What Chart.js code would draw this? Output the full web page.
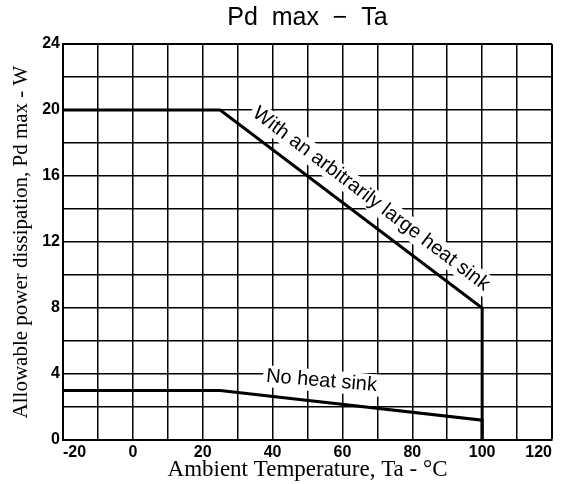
<!DOCTYPE html>
<html>
<head>
<meta charset="utf-8">
<script src="https://cdn.jsdelivr.net/npm/chart.js@4"></script>
<style>
  body { margin: 0; background: #fff; }
  canvas { display: block; }
</style>
</head>
<body>
<canvas id="pdChart" width="563" height="484"></canvas>
<script>
// Axis ranges
const tempMin = -20;
const tempMax = 120;
const pdMin = 0;
const pdMax = 24;

// Curves
const heatSinkTemp = [-20, 25, 100, 100];
const heatSinkPd = [20, 20, 8, 0];
const noSinkTemp = [-20, 25, 100, 100];
const noSinkPd = [3, 3, 1.2, 0];

// Labelled ticks (grid is drawn every 10 °C and every 2 W)
const tempLabels = [-20, 0, 20, 40, 60, 80, 100, 120];
const pdLabels = [0, 4, 8, 12, 16, 20, 24];

const toPoints = (xs, ys) => xs.map((x, i) => ({ x: x, y: ys[i] }));

const tickFont = { family: "'Liberation Sans Narrow', 'Liberation Sans', sans-serif", size: 16, weight: 'bold' };

// Rotated labels sitting on the curves
const curveLabels = {
  id: 'curveLabels',
  afterDatasetsDraw(chart) {
    const { ctx, scales: { x, y } } = chart;
    const put = (text, xa, ya, xb, yb, frac, offset, angleScale) => {
      const x1 = x.getPixelForValue(xa), y1 = y.getPixelForValue(ya);
      const x2 = x.getPixelForValue(xb), y2 = y.getPixelForValue(yb);
      const ang = Math.atan2(y2 - y1, x2 - x1) * angleScale;
      const px = x1 + (x2 - x1) * frac + Math.sin(ang) * offset;
      const py = y1 + (y2 - y1) * frac - Math.cos(ang) * offset;
      ctx.save();
      ctx.translate(px, py);
      ctx.rotate(ang);
      ctx.font = "20px 'Liberation Sans', Arial, sans-serif";
      const tw = ctx.measureText(text).width;
      ctx.fillStyle = '#fff';
      ctx.fillRect(-tw / 2 - 3, -11, tw + 6, 22);
      ctx.fillStyle = '#000';
      ctx.textAlign = 'center';
      ctx.textBaseline = 'middle';
      ctx.fillText(text, 0, 0);
      ctx.restore();
    };
    put('With an arbitrarily large heat sink', heatSinkTemp[1], heatSinkPd[1], heatSinkTemp[2], heatSinkPd[2], 0.53, 20, 1);
    put('No heat sink', noSinkTemp[1], noSinkPd[1], noSinkTemp[2], noSinkPd[2], 0.38, 21, 0.75);
  }
};

new Chart(document.getElementById('pdChart'), {
  type: 'scatter',
  data: {
    datasets: [
      {
        label: 'With an arbitrarily large heat sink',
        data: toPoints(heatSinkTemp, heatSinkPd),
        showLine: true,
        borderColor: '#000',
        borderWidth: 3,
        pointRadius: 0,
        tension: 0
      },
      {
        label: 'No heat sink',
        data: toPoints(noSinkTemp, noSinkPd),
        showLine: true,
        borderColor: '#000',
        borderWidth: 3,
        pointRadius: 0,
        tension: 0
      }
    ]
  },
  options: {
    responsive: false,
    animation: false,
    layout: { padding: { left: 0, right: 11, top: 0, bottom: 0 } },
    plugins: {
      legend: { display: false },
      tooltip: { enabled: false },
      title: {
        display: true,
        fullSize: false,
        text: 'Pd  max  \u2212  Ta',
        color: '#000',
        font: { family: "'Liberation Sans', Arial, sans-serif", size: 25, weight: 'normal' },
        padding: { top: 3, bottom: 11 }
      }
    },
    scales: {
      x: {
        type: 'linear',
        min: tempMin,
        max: tempMax,
        afterFit: s => { s.height = 44; s.paddingLeft = 0; s.paddingRight = 0; },
        border: { color: '#000', width: 2 },
        grid: {
          color: '#000',
          lineWidth: c => (c.tick.value === tempMax ? 2 : 1.5),
          drawTicks: false
        },
        ticks: {
          stepSize: 10,
          padding: 3,
          align: 'inner',
          color: '#000',
          font: tickFont,
          maxRotation: 0,
          autoSkip: false,
          callback: v => (tempLabels.includes(v) ? String(v) : '')
        },
        title: {
          display: true,
          text: 'Ambient Temperature, Ta - \u00B0C',
          color: '#000',
          font: { family: "'Liberation Serif', 'DejaVu Serif', serif", size: 23 },
          padding: { top: 0, bottom: 0 }
        }
      },
      y: {
        type: 'linear',
        min: pdMin,
        max: pdMax,
        afterFit: s => { s.width = 63; },
        border: { color: '#000', width: 2 },
        grid: {
          color: '#000',
          lineWidth: c => (c.tick.value === pdMax ? 2 : 1.5),
          drawTicks: false
        },
        ticks: {
          stepSize: 2,
          padding: 3,
          color: '#000',
          font: tickFont,
          autoSkip: false,
          callback: v => (pdLabels.includes(v) ? String(v) : '')
        },
        title: {
          display: true,
          text: 'Allowable power dissipation, Pd max - W',
          color: '#000',
          font: { family: "'Liberation Serif', 'DejaVu Serif', serif", size: 21 },
          padding: { top: 9, bottom: 0 }
        }
      }
    }
  },
  plugins: [curveLabels]
});
</script>
</body>
</html>
